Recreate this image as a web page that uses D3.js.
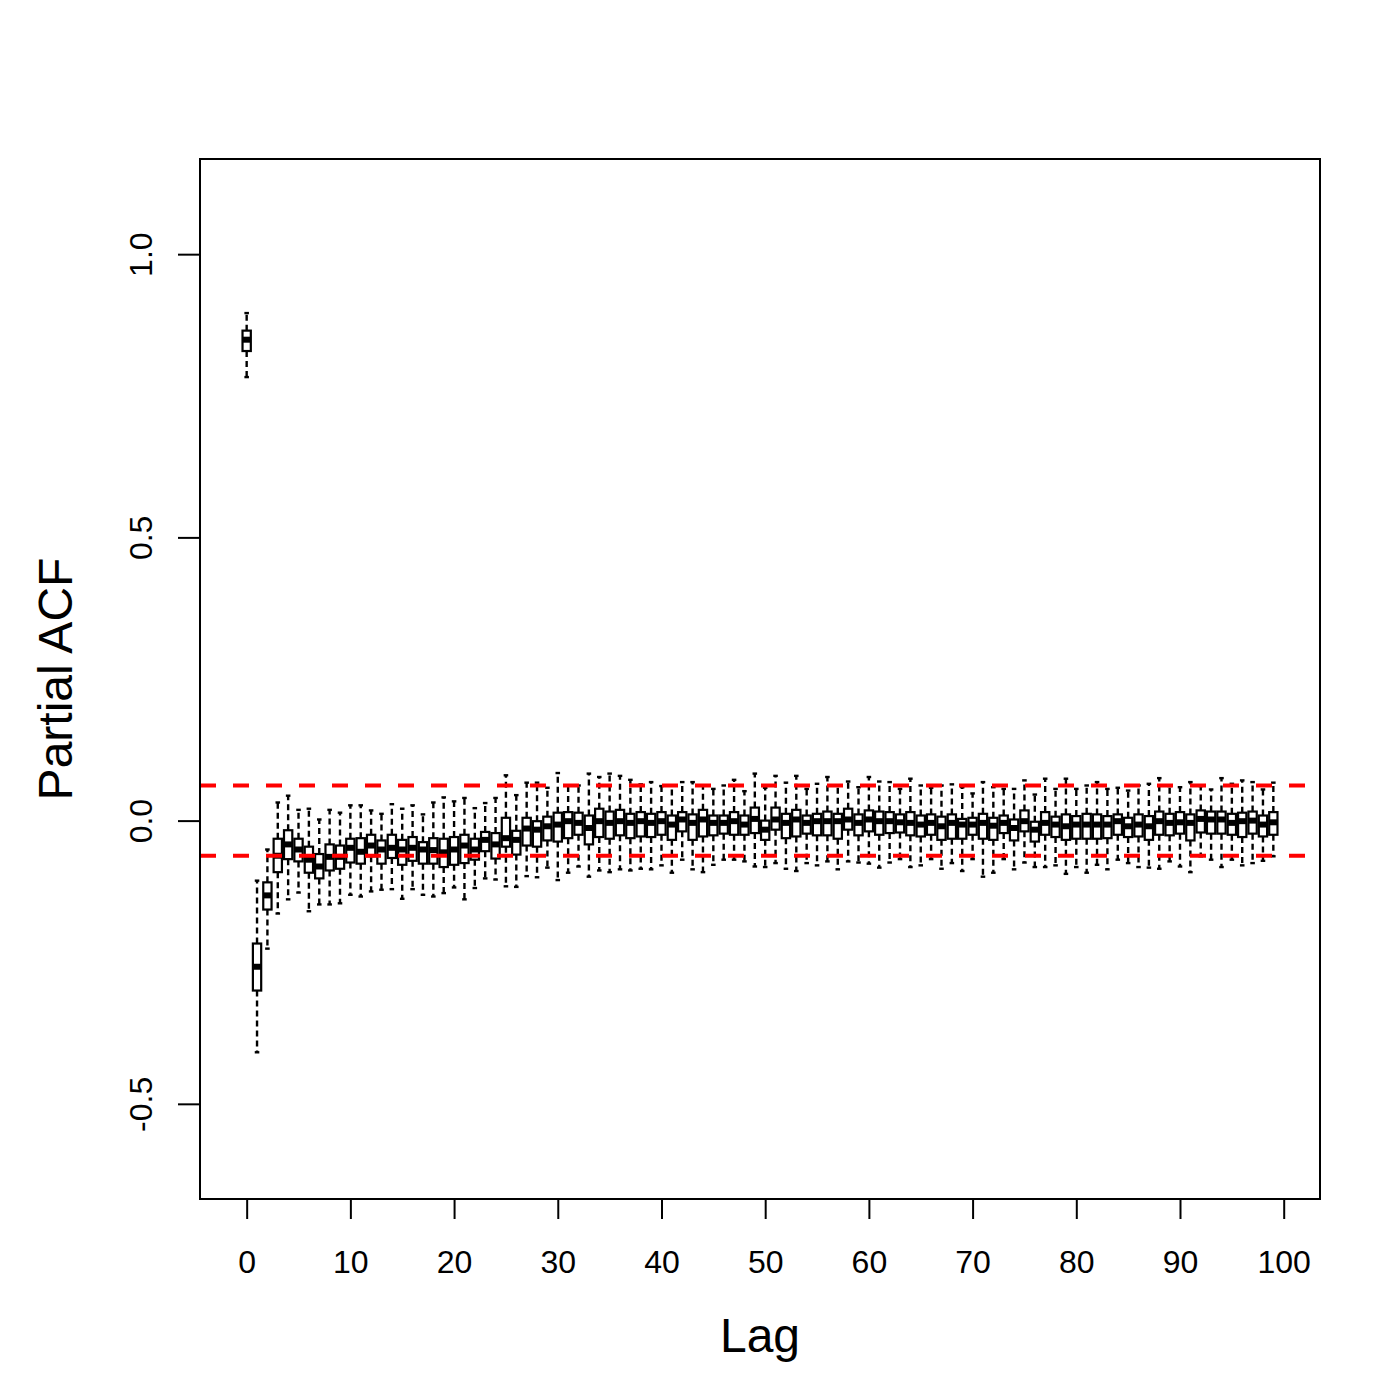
<!DOCTYPE html>
<html>
<head>
<meta charset="utf-8">
<script src="https://cdn.jsdelivr.net/npm/d3@7"></script>
<style>
  body { margin: 0; background: #fff; }
  svg text { font-family: "Liberation Sans", Arial, Helvetica, sans-serif; }
</style>
</head>
<body>
<svg id="chart" width="1400" height="1400"></svg>
<script>
// lags 0..99, five-number summary per lag
const lags = d3.range(0, 100);

const whiskerHi = [
  0.896, -0.106, -0.051, 0.032, 0.044, 0.019, 0.021, 0.002, 0.019, 0.014,
  0.027, 0.027, 0.018, 0.012, 0.029, 0.021, 0.027, 0.011, 0.032, 0.041,
  0.034, 0.040, 0.022, 0.031, 0.040, 0.080, 0.045, 0.067, 0.067, 0.058,
  0.084, 0.062, 0.062, 0.083, 0.077, 0.083, 0.079, 0.072, 0.064, 0.068,
  0.061, 0.062, 0.068, 0.068, 0.062, 0.056, 0.062, 0.072, 0.052, 0.083,
  0.058, 0.079, 0.067, 0.079, 0.056, 0.065, 0.077, 0.062, 0.069, 0.059,
  0.077, 0.069, 0.068, 0.056, 0.074, 0.062, 0.058, 0.062, 0.064, 0.059,
  0.048, 0.068, 0.059, 0.056, 0.056, 0.071, 0.046, 0.074, 0.056, 0.074,
  0.056, 0.062, 0.068, 0.056, 0.058, 0.053, 0.062, 0.065, 0.075, 0.061,
  0.059, 0.068, 0.061, 0.055, 0.075, 0.065, 0.071, 0.068, 0.055, 0.067
];

const upperQ = [
  0.865, -0.217, -0.109, -0.032, -0.017, -0.032, -0.046, -0.059, -0.042, -0.044,
  -0.032, -0.031, -0.025, -0.035, -0.025, -0.034, -0.029, -0.038, -0.031, -0.032,
  -0.029, -0.025, -0.032, -0.020, -0.022, 0.005, -0.018, 0.005, -0.001, 0.007,
  0.014, 0.015, 0.014, 0.009, 0.021, 0.016, 0.019, 0.012, 0.015, 0.012,
  0.015, 0.009, 0.015, 0.011, 0.019, 0.009, 0.009, 0.015, 0.009, 0.023,
  0.000, 0.023, 0.012, 0.019, 0.009, 0.012, 0.016, 0.012, 0.021, 0.011,
  0.018, 0.016, 0.015, 0.011, 0.015, 0.009, 0.011, 0.007, 0.011, 0.003,
  0.005, 0.012, 0.005, 0.009, 0.002, 0.018, -0.002, 0.015, 0.007, 0.011,
  0.008, 0.012, 0.011, 0.008, 0.011, 0.005, 0.011, 0.008, 0.016, 0.012,
  0.015, 0.011, 0.018, 0.016, 0.016, 0.012, 0.014, 0.016, 0.009, 0.015
];

const medians = [
  0.849, -0.258, -0.132, -0.062, -0.042, -0.051, -0.069, -0.081, -0.064, -0.064,
  -0.048, -0.055, -0.044, -0.051, -0.048, -0.051, -0.048, -0.051, -0.052, -0.056,
  -0.051, -0.044, -0.051, -0.034, -0.042, -0.031, -0.034, -0.014, -0.016, -0.010,
  -0.007, -0.001, -0.004, -0.013, -0.001, -0.004, -0.001, -0.004, -0.001, -0.004,
  -0.001, -0.007, 0.002, -0.004, 0.002, -0.004, -0.004, -0.001, -0.007, 0.003,
  -0.016, 0.002, -0.004, 0.002, -0.004, -0.001, -0.001, -0.001, 0.002, -0.004,
  0.002, -0.001, -0.001, -0.003, -0.004, -0.007, -0.004, -0.010, -0.004, -0.007,
  -0.007, -0.004, -0.009, -0.004, -0.013, -0.001, -0.016, -0.004, -0.007, -0.010,
  -0.007, -0.007, -0.007, -0.007, -0.001, -0.010, -0.007, -0.010, -0.001, -0.004,
  -0.003, -0.004, 0.003, 0.002, 0.002, -0.004, -0.001, 0.000, -0.007, -0.003
];

const lowerQ = [
  0.829, -0.300, -0.157, -0.091, -0.068, -0.072, -0.092, -0.102, -0.088, -0.085,
  -0.074, -0.076, -0.063, -0.076, -0.066, -0.078, -0.071, -0.076, -0.076, -0.082,
  -0.078, -0.075, -0.069, -0.054, -0.067, -0.046, -0.060, -0.044, -0.046, -0.035,
  -0.037, -0.031, -0.025, -0.042, -0.029, -0.032, -0.026, -0.031, -0.028, -0.029,
  -0.025, -0.034, -0.019, -0.034, -0.028, -0.026, -0.023, -0.025, -0.025, -0.022,
  -0.034, -0.016, -0.031, -0.028, -0.023, -0.026, -0.026, -0.032, -0.016, -0.026,
  -0.019, -0.025, -0.022, -0.021, -0.026, -0.028, -0.025, -0.034, -0.032, -0.032,
  -0.025, -0.032, -0.034, -0.022, -0.035, -0.019, -0.037, -0.025, -0.029, -0.034,
  -0.032, -0.032, -0.032, -0.031, -0.025, -0.029, -0.028, -0.034, -0.025, -0.026,
  -0.023, -0.035, -0.021, -0.023, -0.023, -0.025, -0.029, -0.023, -0.028, -0.025
];

const whiskerLo = [
  0.783, -0.409, -0.226, -0.164, -0.139, -0.127, -0.160, -0.148, -0.148, -0.146,
  -0.131, -0.134, -0.125, -0.122, -0.121, -0.138, -0.121, -0.131, -0.134, -0.128,
  -0.118, -0.139, -0.119, -0.102, -0.104, -0.116, -0.117, -0.098, -0.100, -0.083,
  -0.105, -0.092, -0.081, -0.099, -0.088, -0.091, -0.086, -0.088, -0.085, -0.086,
  -0.079, -0.092, -0.069, -0.086, -0.091, -0.078, -0.069, -0.069, -0.072, -0.081,
  -0.082, -0.075, -0.085, -0.089, -0.075, -0.079, -0.072, -0.086, -0.072, -0.074,
  -0.076, -0.083, -0.074, -0.068, -0.082, -0.079, -0.068, -0.085, -0.075, -0.089,
  -0.068, -0.099, -0.092, -0.068, -0.086, -0.074, -0.082, -0.082, -0.079, -0.094,
  -0.082, -0.092, -0.078, -0.086, -0.069, -0.075, -0.082, -0.083, -0.085, -0.072,
  -0.081, -0.091, -0.063, -0.069, -0.082, -0.069, -0.079, -0.075, -0.071, -0.063
];

// confidence bounds
const ciBounds = [0.062, -0.062];

const xTicks = [0, 10, 20, 30, 40, 50, 60, 70, 80, 90, 100];
const yTicks = [-0.5, 0, 0.5, 1.0];
const yTickLabels = ["-0.5", "0.0", "0.5", "1.0"];

const svg = d3.select("#chart");

const plotL = 200, plotR = 1320, plotT = 159, plotB = 1199;

const x = d3.scaleLinear().domain([-4.5, 103.5]).range([plotL, plotR]);
const y = d3.scaleLinear().domain([-0.668, 1.168]).range([plotB, plotT]);

const boxW = x(0.4) - x(0);     // half box width
const capW = x(0.22) - x(0);    // half staple width

const boxes = lags.map((lag, i) => ({
  lag: lag,
  hi: whiskerHi[i], q3: upperQ[i], med: medians[i], q1: lowerQ[i], lo: whiskerLo[i]
}));

const g = svg.append("g");

const bx = g.selectAll("g.box")
  .data(boxes)
  .enter().append("g")
  .attr("class", "box");

// whiskers, dashed
bx.append("line")
  .attr("x1", d => x(d.lag)).attr("x2", d => x(d.lag))
  .attr("y1", d => y(d.q3)).attr("y2", d => y(d.hi))
  .attr("stroke", "black").attr("stroke-width", 2.4)
  .attr("stroke-dasharray", "6,4");
bx.append("line")
  .attr("x1", d => x(d.lag)).attr("x2", d => x(d.lag))
  .attr("y1", d => y(d.q1)).attr("y2", d => y(d.lo))
  .attr("stroke", "black").attr("stroke-width", 2.4)
  .attr("stroke-dasharray", "6,4");

// staples
bx.append("line")
  .attr("x1", d => x(d.lag) - capW).attr("x2", d => x(d.lag) + capW)
  .attr("y1", d => y(d.hi)).attr("y2", d => y(d.hi))
  .attr("stroke", "black").attr("stroke-width", 2.4);
bx.append("line")
  .attr("x1", d => x(d.lag) - capW).attr("x2", d => x(d.lag) + capW)
  .attr("y1", d => y(d.lo)).attr("y2", d => y(d.lo))
  .attr("stroke", "black").attr("stroke-width", 2.4);

// box
bx.append("rect")
  .attr("x", d => x(d.lag) - boxW)
  .attr("width", boxW * 2)
  .attr("y", d => y(d.q3))
  .attr("height", d => y(d.q1) - y(d.q3))
  .attr("fill", "white")
  .attr("stroke", "black").attr("stroke-width", 2.2);

// median
bx.append("line")
  .attr("x1", d => x(d.lag) - boxW).attr("x2", d => x(d.lag) + boxW)
  .attr("y1", d => y(d.med)).attr("y2", d => y(d.med))
  .attr("stroke", "black").attr("stroke-width", 6);

// red dashed bounds
g.selectAll("line.ci")
  .data(ciBounds)
  .enter().append("line")
  .attr("class", "ci")
  .attr("x1", plotL).attr("x2", plotR)
  .attr("y1", d => y(d)).attr("y2", d => y(d))
  .attr("stroke", "#ff0000").attr("stroke-width", 4)
  .attr("stroke-dasharray", "16,17");

// frame
svg.append("rect")
  .attr("x", plotL).attr("y", plotT)
  .attr("width", plotR - plotL).attr("height", plotB - plotT)
  .attr("fill", "none").attr("stroke", "black").attr("stroke-width", 2);

// x axis
const xAxis = svg.append("g")
  .attr("transform", `translate(0,${plotB})`)
  .call(d3.axisBottom(x).tickValues(xTicks).tickSize(20).tickSizeOuter(0).tickFormat(d3.format("d")));
xAxis.select(".domain").remove();
xAxis.selectAll(".tick line").attr("stroke-width", 2);
xAxis.selectAll(".tick text")
  .attr("y", 74).attr("dy", null)
  .attr("font-size", 32).attr("fill", "black")
  .style("font-family", "'Liberation Sans', Arial, sans-serif");

// y axis
const yAxis = svg.append("g")
  .attr("transform", `translate(${plotL},0)`)
  .call(d3.axisLeft(y).tickValues(yTicks).tickSize(22).tickSizeOuter(0)
    .tickFormat((d, i) => yTickLabels[i]));
yAxis.select(".domain").remove();
yAxis.selectAll(".tick line").attr("stroke-width", 2);
yAxis.selectAll(".tick text")
  .attr("x", null).attr("dy", null)
  .attr("text-anchor", "middle")
  .attr("transform", "translate(-48,0) rotate(-90)")
  .attr("font-size", 32).attr("fill", "black")
  .style("font-family", "'Liberation Sans', Arial, sans-serif");

// axis titles
svg.append("text")
  .attr("x", (plotL + plotR) / 2).attr("y", 1352)
  .attr("text-anchor", "middle")
  .attr("font-size", 48)
  .text("Lag");

svg.append("text")
  .attr("transform", `translate(72,${(plotT + plotB) / 2}) rotate(-90)`)
  .attr("text-anchor", "middle")
  .attr("font-size", 48)
  .text("Partial ACF");
</script>
</body>
</html>
